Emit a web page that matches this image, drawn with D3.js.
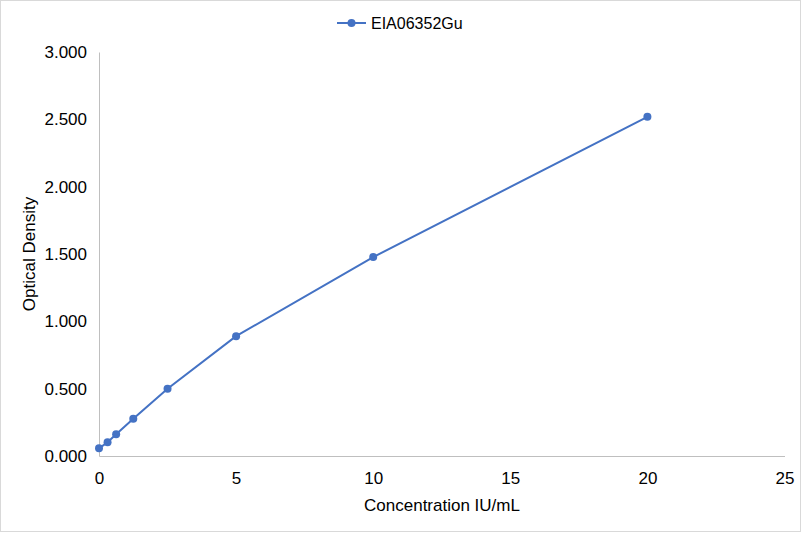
<!DOCTYPE html>
<html>
<head>
<meta charset="utf-8">
<script src="https://cdn.jsdelivr.net/npm/d3@7"></script>
<style>
  body { margin: 0; background: #fff; }
  text { font-family: "Liberation Sans", Arial, sans-serif; fill: #000; }
</style>
</head>
<body>
<svg id="chart" width="801" height="533"></svg>
<script>
// standard curve data
var seriesName = "EIA06352Gu";
var concentration = [0, 0.3125, 0.625, 1.25, 2.5, 5, 10, 20];
var density = [0.057, 0.102, 0.161, 0.277, 0.500, 0.890, 1.477, 2.519];
var xTicks = [0, 5, 10, 15, 20, 25];
var yTicks = [0, 0.5, 1, 1.5, 2, 2.5, 3];

var lineColor = "#4472c4";
var axisColor = "#bfbfbf";

var svg = d3.select("#chart");

// chart border
svg.append("rect")
    .attr("x", 0.5)
    .attr("y", 0.5)
    .attr("width", 800)
    .attr("height", 531)
    .attr("fill", "#fff")
    .attr("stroke", "#d9d9d9");

var x = d3.scaleLinear().domain([0, 25]).range([99, 784.5]);
var y = d3.scaleLinear().domain([0, 3]).range([456, 52]);

// axes
var xAxis = svg.append("g")
    .attr("transform", "translate(0," + y(0) + ")")
    .call(d3.axisBottom(x).tickValues(xTicks).tickSize(0).tickPadding(16).tickFormat(d3.format("d")));

var yAxis = svg.append("g")
    .attr("transform", "translate(" + x(0) + ",0)")
    .call(d3.axisLeft(y).tickValues(yTicks).tickSize(0).tickPadding(12).tickFormat(d3.format(".3f")));

[xAxis, yAxis].forEach(function (g) {
    g.select(".domain").attr("stroke", axisColor).attr("stroke-width", 1);
    g.selectAll("text").style("font-size", "17px").attr("fill", "#000");
});

// axis titles
svg.append("text")
    .attr("x", 442)
    .attr("y", 511)
    .attr("text-anchor", "middle")
    .style("font-size", "17px")
    .text("Concentration IU/mL");

svg.append("text")
    .attr("transform", "translate(35,254) rotate(-90)")
    .attr("text-anchor", "middle")
    .style("font-size", "17px")
    .text("Optical Density");

// line and markers
var points = concentration.map(function (c, i) { return [c, density[i]]; });

svg.append("path")
    .datum(points)
    .attr("fill", "none")
    .attr("stroke", lineColor)
    .attr("stroke-width", 2)
    .attr("d", d3.line().x(function (d) { return x(d[0]); }).y(function (d) { return y(d[1]); }));

svg.selectAll("circle.pt")
    .data(points)
    .enter()
    .append("circle")
    .attr("class", "pt")
    .attr("cx", function (d) { return x(d[0]); })
    .attr("cy", function (d) { return y(d[1]); })
    .attr("r", 4)
    .attr("fill", lineColor);

// legend
var legend = svg.append("g");
legend.append("line")
    .attr("x1", 337).attr("x2", 366)
    .attr("y1", 23).attr("y2", 23)
    .attr("stroke", lineColor)
    .attr("stroke-width", 2);
legend.append("circle")
    .attr("cx", 351.5).attr("cy", 23).attr("r", 4)
    .attr("fill", lineColor);
legend.append("text")
    .attr("x", 371)
    .attr("y", 29)
    .style("font-size", "16px")
    .text(seriesName);
</script>
</body>
</html>
